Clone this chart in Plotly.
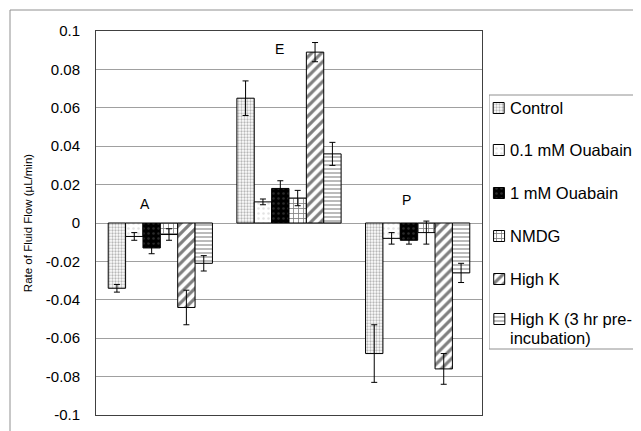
import plotly.graph_objects as go

groups = ["A", "E", "P"]
series = ["Control", "0.1 mM Ouabain", "1 mM Ouabain", "NMDG", "High K",
          "High K (3 hr pre-", "incubation)"]
control = [-0.034, 0.065, -0.068]
control_err = [0.002, 0.009, 0.015]
oua01 = [-0.007, 0.011, -0.008]
oua01_err = [0.002, 0.0015, 0.003]
oua1 = [-0.013, 0.018, -0.009]
oua1_err = [0.003, 0.004, 0.002]
nmdg = [-0.006, 0.013, -0.005]
nmdg_err = [0.003, 0.004, 0.006]
highk = [-0.044, 0.089, -0.076]
highk_err = [0.009, 0.005, 0.008]
highk3 = [-0.021, 0.036, -0.026]
highk3_err = [0.004, 0.006, 0.005]
yticks = [0.1, 0.08, 0.06, 0.04, 0.02, 0, -0.02, -0.04, -0.06, -0.08, -0.1]
yticktext = ["0.1", "0.08", "0.06", "0.04", "0.02", "0", "-0.02", "-0.04",
             "-0.06", "-0.08", "-0.1"]

values = [control, oua01, oua1, nmdg, highk, highk3]
errors = [control_err, oua01_err, oua1_err, nmdg_err, highk_err, highk3_err]
patterns = [
    dict(shape=".", fgcolor="#707070", bgcolor="white", size=3, solidity=0.45),
    dict(shape=".", fgcolor="#c8c8c8", bgcolor="white", size=5, solidity=0.2),
    dict(shape=".", fgcolor="#555555", bgcolor="black", size=5, solidity=0.2),
    dict(shape="+", fgcolor="black", bgcolor="white", size=5, solidity=0.3),
    dict(shape="/", fgcolor="black", bgcolor="white", size=7, solidity=0.45),
    dict(shape="-", fgcolor="#555555", bgcolor="white", size=4, solidity=0.4),
]

# page offset (browser body margin)
OFF = 8
PAGE_R = 641
W, H = PAGE_R - OFF, 431 - OFF
plot_l, plot_r, plot_t, plot_b = 96, 482, 31, 415  # page px
area_w = PAGE_R - plot_l

fig = go.Figure()
for i, (name, v, e, p) in enumerate(zip(series, values, errors, patterns)):
    fig.add_trace(go.Bar(
        x=groups, y=v, name=name, showlegend=False,
        marker=dict(color=p["bgcolor"], line=dict(color="black", width=1),
                    pattern=p),
        error_y=dict(type="data", array=e, color="black", thickness=1, width=3),
        xaxis="x", yaxis="y",
    ))

# custom legend drawn on a second pair of axes laid out in page pixels
leg_left, leg_top, leg_bot = 489, 95, 349
icon_y = [108, 150, 193, 236, 279, 319]
text_y = [108, 150, 193, 236, 279, 319, 338]
for i, p in enumerate(patterns):
    fig.add_trace(go.Bar(
        x=[499], y=[11], base=[icon_y[i] - 5.5], width=[11], showlegend=False,
        marker=dict(color=p["bgcolor"], line=dict(color="black", width=1),
                    pattern=p),
        xaxis="x2", yaxis="y2", hoverinfo="skip",
    ))
for name, ty in zip(series, text_y):
    fig.add_annotation(x=508, y=ty, xref="x2", yref="y2", text=name,
                       showarrow=False, xanchor="left", yanchor="middle",
                       align="left", font=dict(size=16.5, color="black"))

for (x0, y0, x1, y1) in [(leg_left, leg_top, 760, leg_top),
                         (leg_left, leg_bot, 760, leg_bot),
                         (leg_left, leg_top, leg_left, leg_bot)]:
    fig.add_shape(type="line", xref="x2", yref="y2", x0=x0, y0=y0, x1=x1,
                  y1=y1, line=dict(color="#909090", width=1))

label_y = [0.0099, 0.0905, 0.012]
label_shift = [-15, -10, -11]
for g, yv, sh in zip(groups, label_y, label_shift):
    fig.add_annotation(x=g, y=yv, text=g, showarrow=False, xshift=sh,
                       xref="x", yref="y",
                       font=dict(size=14, color="black"), yanchor="middle")

# outer frame lines
fx = (10 - plot_l) / area_w
fy = (plot_b - 10) / (plot_b - plot_t)
fig.add_shape(type="line", xref="paper", yref="paper", x0=fx, x1=1.2,
              y0=fy, y1=fy, line=dict(color="#909090", width=1))
fig.add_shape(type="line", xref="paper", yref="paper", x0=fx, x1=fx,
              y0=fy, y1=-0.1, line=dict(color="#909090", width=1))

fig.update_layout(
    width=W, height=H,
    margin=dict(l=plot_l - OFF, r=0, t=plot_t - OFF, b=H - (plot_b - OFF),
                autoexpand=False),
    paper_bgcolor="white", plot_bgcolor="white",
    barmode="group", bargap=0.19, bargroupgap=0,
    font=dict(family="Liberation Sans, Arial, sans-serif", color="black"),
    showlegend=False,
    xaxis=dict(domain=[0, (plot_r - plot_l) / area_w], showticklabels=False,
               showgrid=False, showline=True, linecolor="#404040",
               linewidth=1, mirror=True, ticks=""),
    yaxis=dict(range=[-0.1, 0.1], tickvals=yticks, ticktext=yticktext,
               showgrid=True, gridcolor="#a0a0a0", gridwidth=1,
               zeroline=False, showline=True, linecolor="#404040",
               linewidth=1, mirror=True, ticks="", ticklabelstandoff=12,
               tickfont=dict(size=15),
               title=dict(text="Rate of Fluid Flow (µL/min)",
                          font=dict(size=11.5), standoff=10)),
    xaxis2=dict(domain=[(leg_left - plot_l) / area_w, 1],
                range=[leg_left, PAGE_R],
                visible=False, fixedrange=True, anchor="y2"),
    yaxis2=dict(domain=[0, 1], range=[plot_b, plot_t], visible=False,
                fixedrange=True, anchor="x2"),
)

fig.write_html("out.html")
